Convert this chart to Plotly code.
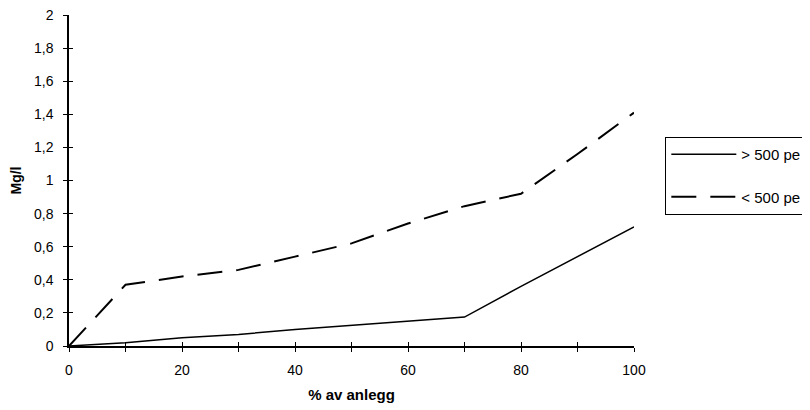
import plotly.graph_objects as go

# ---- data ----
x_pct = [0, 10, 20, 30, 40, 50, 60, 70, 80, 90, 100]
over_500 = [0, 0.02, 0.05, 0.07, 0.10, 0.125, 0.15, 0.175, 0.36, 0.54, 0.72]
under_500 = [0, 0.37, 0.42, 0.46, 0.54, 0.62, 0.74, 0.845, 0.92, 1.16, 1.41]
series_names = ["> 500 pe", "< 500 pe"]
x_title = "% av anlegg"
y_title = "Mg/l"

FONT = "Liberation Sans, Arial, Helvetica, sans-serif"

fig = go.Figure()
fig.add_trace(go.Scatter(
    x=x_pct, y=over_500, mode="lines", name=series_names[0],
    legendgroup="a", line=dict(color="black", width=1.5),
))
fig.add_trace(go.Scatter(
    x=x_pct, y=under_500, mode="lines", name=series_names[1],
    legendgroup="b", line=dict(color="black", width=2, dash="25px,14px"),
))
# invisible helper trace so the overlay axes (inner tick halves) are drawn
fig.add_trace(go.Scatter(x=[None], y=[None], xaxis="x2", yaxis="y2",
                         showlegend=False, hoverinfo="skip"))

axis_common = dict(
    showgrid=False, zeroline=False, color="black",
    tickfont=dict(family=FONT, size=14, color="black"),
    ticklen=4, tickwidth=1.3, tickcolor="black",
)

fig.update_layout(
    width=802, height=402,
    paper_bgcolor="white", plot_bgcolor="white",
    separators=", ",
    margin=dict(l=61, r=176, t=7, b=64, autoexpand=False),
    font=dict(family=FONT, size=14, color="black"),
    xaxis=dict(
        range=[0, 100], tick0=0, dtick=20, ticks="outside",
        minor=dict(dtick=10, ticks="outside", ticklen=4, tickwidth=1.3, tickcolor="black", showgrid=False),
        showline=True, linecolor="black", linewidth=1.5,
        ticklabelstandoff=6, ticklabeloverflow="allow",
        title=dict(text="<b>" + x_title + "</b>", font=dict(family=FONT, size=15), standoff=13),
        **axis_common,
    ),
    yaxis=dict(
        range=[0, 2], tick0=0, dtick=0.2, ticks="outside",
        showline=True, linecolor="black", linewidth=1.5,
        ticklabelstandoff=7, ticklabeloverflow="allow",
        title=dict(text="<b>" + y_title + "</b>", font=dict(family=FONT, size=14), standoff=14),
        **axis_common,
    ),
    xaxis2=dict(
        range=[0, 100], tick0=0, dtick=10, ticks="inside", overlaying="x",
        anchor="y2", side="bottom", showticklabels=False, showline=False,
        **axis_common,
    ),
    yaxis2=dict(
        range=[0, 2], tick0=0, dtick=0.2, ticks="inside", overlaying="y",
        anchor="x2", side="left", showticklabels=False, showline=False,
        **axis_common,
    ),
    showlegend=True,
    legend=dict(
        x=1.0549, xanchor="left", y=0.632, yanchor="top",
        bordercolor="black", borderwidth=1.3, bgcolor="white",
        font=dict(family=FONT, size=15, color="black"),
        tracegroupgap=20, itemwidth=65,
        entrywidth=150, entrywidthmode="pixels",
    ),
)

fig.write_html("out.html")
